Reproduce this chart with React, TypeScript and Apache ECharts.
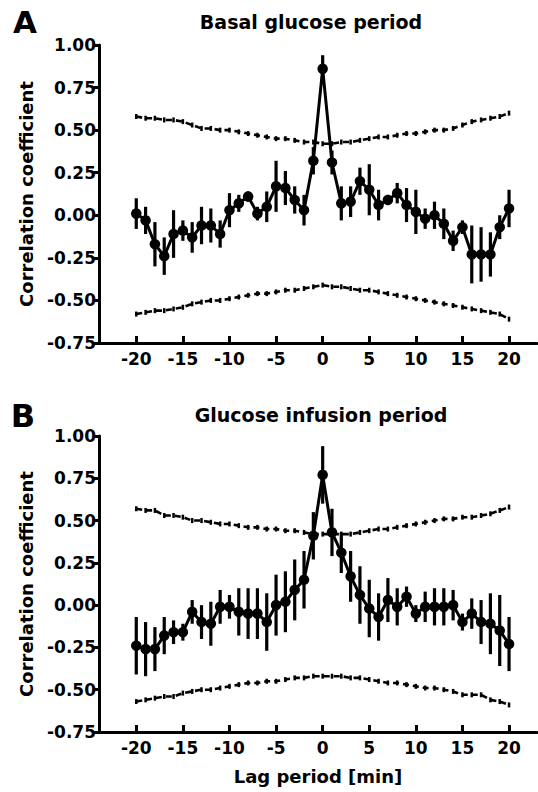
import React, { useEffect, useRef } from "react";
import * as echarts from "echarts";

const lags = [-20, -19, -18, -17, -16, -15, -14, -13, -12, -11, -10, -9, -8, -7, -6, -5, -4, -3, -2, -1, 0, 1, 2, 3, 4, 5, 6, 7, 8, 9, 10, 11, 12, 13, 14, 15, 16, 17, 18, 19, 20];
const xTicks = [-20, -15, -10, -5, 0, 5, 10, 15, 20];

const basalR = [0.01, -0.03, -0.17, -0.24, -0.11, -0.09, -0.13, -0.06, -0.06, -0.11, 0.03, 0.07, 0.11, 0.01, 0.05, 0.17, 0.16, 0.09, 0.03, 0.32, 0.86, 0.31, 0.07, 0.08, 0.2, 0.15, 0.06, 0.09, 0.13, 0.06, 0.02, -0.02, 0.0, -0.05, -0.15, -0.07, -0.23, -0.23, -0.23, -0.07, 0.04];
const basalErr = [0.09, 0.08, 0.13, 0.11, 0.14, 0.06, 0.09, 0.11, 0.1, 0.08, 0.1, 0.05, 0.03, 0.04, 0.09, 0.15, 0.1, 0.08, 0.09, 0.08, 0.08, 0.07, 0.1, 0.09, 0.08, 0.15, 0.09, 0.03, 0.06, 0.1, 0.13, 0.06, 0.08, 0.09, 0.06, 0.04, 0.17, 0.16, 0.13, 0.07, 0.11];
const basalUpper = [0.58, 0.57, 0.57, 0.56, 0.56, 0.55, 0.53, 0.51, 0.51, 0.5, 0.5, 0.49, 0.48, 0.47, 0.46, 0.45, 0.45, 0.44, 0.43, 0.43, 0.42, 0.42, 0.43, 0.43, 0.44, 0.45, 0.46, 0.46, 0.47, 0.48, 0.48, 0.49, 0.5, 0.5, 0.51, 0.53, 0.55, 0.56, 0.57, 0.58, 0.6];
const basalLower = [-0.58, -0.57, -0.56, -0.56, -0.55, -0.54, -0.52, -0.51, -0.5, -0.5, -0.49, -0.48, -0.47, -0.46, -0.46, -0.45, -0.44, -0.44, -0.43, -0.42, -0.41, -0.42, -0.42, -0.43, -0.44, -0.44, -0.45, -0.46, -0.47, -0.48, -0.49, -0.5, -0.51, -0.52, -0.53, -0.54, -0.55, -0.56, -0.57, -0.58, -0.61];

const infusionR = [-0.24, -0.26, -0.26, -0.18, -0.16, -0.16, -0.04, -0.1, -0.11, -0.01, -0.01, -0.04, -0.05, -0.05, -0.1, 0.0, 0.02, 0.09, 0.15, 0.41, 0.77, 0.43, 0.31, 0.17, 0.06, -0.02, -0.07, 0.03, -0.01, 0.05, -0.05, -0.01, -0.01, -0.01, 0.0, -0.1, -0.05, -0.1, -0.11, -0.15, -0.23];
const infusionErr = [0.17, 0.16, 0.13, 0.11, 0.07, 0.05, 0.07, 0.1, 0.13, 0.1, 0.07, 0.14, 0.15, 0.15, 0.17, 0.18, 0.18, 0.18, 0.17, 0.14, 0.17, 0.14, 0.12, 0.15, 0.17, 0.17, 0.14, 0.13, 0.11, 0.06, 0.05, 0.09, 0.11, 0.11, 0.09, 0.05, 0.09, 0.13, 0.18, 0.21, 0.16];
const infusionUpper = [0.57, 0.56, 0.56, 0.53, 0.53, 0.52, 0.5, 0.5, 0.49, 0.48, 0.48, 0.47, 0.46, 0.46, 0.45, 0.45, 0.44, 0.44, 0.43, 0.42, 0.42, 0.42, 0.42, 0.42, 0.43, 0.44, 0.45, 0.45, 0.46, 0.47, 0.48, 0.49, 0.5, 0.51, 0.51, 0.52, 0.52, 0.53, 0.54, 0.56, 0.58];
const infusionLower = [-0.57, -0.56, -0.55, -0.54, -0.54, -0.52, -0.51, -0.5, -0.5, -0.49, -0.48, -0.47, -0.46, -0.46, -0.45, -0.45, -0.44, -0.43, -0.43, -0.42, -0.42, -0.42, -0.42, -0.43, -0.43, -0.44, -0.45, -0.46, -0.46, -0.47, -0.48, -0.49, -0.49, -0.5, -0.51, -0.53, -0.53, -0.53, -0.56, -0.57, -0.59];

const titles = ["Basal glucose period", "Glucose infusion period"];
const panelLetters = ["A", "B"];
const yName = "Correlation coefficient";
const xName = "Lag period [min]";

const FONT = "'DejaVu Sans', 'Liberation Sans', sans-serif";
const INK = "#000";

function pairs(vals: number[]) {
  return lags.map((l, i) => [l, vals[i]]);
}
function bars(vals: number[], err: number[]) {
  return lags.map((l, i) => [l, vals[i] - err[i], vals[i] + err[i]]);
}

function panelSeries(idx: number, r: number[], err: number[], up: number[], lo: number[]) {
  const dashed = (data: number[][]) => ({
    type: "line",
    xAxisIndex: idx,
    yAxisIndex: idx,
    data,
    symbol: "rect",
    symbolSize: [2.5, 5],
    itemStyle: { color: INK },
    lineStyle: { color: INK, width: 2.6, type: [6, 4] },
    z: 2,
    silent: true,
  });
  return [
    dashed(pairs(up)),
    dashed(pairs(lo)),
    {
      type: "custom",
      xAxisIndex: idx,
      yAxisIndex: idx,
      data: bars(r, err),
      encode: { x: 0, y: [1, 2] },
      renderItem: (params: any, api: any) => {
        const x = api.value(0);
        const a = api.coord([x, api.value(1)]);
        const b = api.coord([x, api.value(2)]);
        return {
          type: "line",
          shape: { x1: a[0], y1: a[1], x2: b[0], y2: b[1] },
          style: { stroke: INK, lineWidth: 3.2 },
        };
      },
      z: 3,
      silent: true,
    },
    {
      type: "line",
      xAxisIndex: idx,
      yAxisIndex: idx,
      data: pairs(r),
      symbol: "circle",
      symbolSize: 10.5,
      showAllSymbol: true,
      itemStyle: { color: INK },
      lineStyle: { color: INK, width: 3 },
      z: 4,
      silent: true,
    },
  ];
}

function xAxisDef(idx: number, withName: boolean) {
  return {
    type: "value",
    gridIndex: idx,
    min: -24,
    max: 23,
    name: withName ? xName : "",
    nameLocation: "middle",
    nameGap: 35,
    nameTextStyle: { color: INK, fontFamily: FONT, fontWeight: "bold", fontSize: 18 },
    axisLine: { onZero: false, lineStyle: { color: INK, width: 3 } },
    axisTick: { show: true, inside: true, length: 7, lineStyle: { color: INK, width: 3 }, customValues: xTicks },
    axisLabel: { color: INK, fontFamily: FONT, fontWeight: "bold", fontSize: 17, margin: 7, customValues: xTicks },
    splitLine: { show: false },
  };
}

function yAxisDef(idx: number) {
  return {
    type: "value",
    gridIndex: idx,
    min: -0.75,
    max: 1,
    interval: 0.25,
    name: yName,
    nameLocation: "middle",
    nameGap: 64,
    nameTextStyle: { color: INK, fontFamily: FONT, fontWeight: "bold", fontSize: 18 },
    axisLine: { show: true, onZero: false, lineStyle: { color: INK, width: 3 } },
    axisTick: { show: true, inside: false, length: 6, lineStyle: { color: INK, width: 3 } },
    axisLabel: {
      color: INK,
      fontFamily: FONT,
      fontWeight: "bold",
      fontSize: 17,
      margin: 3,
      formatter: (v: number) => v.toFixed(2),
    },
    splitLine: { show: false },
  };
}

export default function App() {
  const ref = useRef<HTMLDivElement>(null);
  useEffect(() => {
    if (!ref.current) return;
    const chart = echarts.init(ref.current, undefined, { renderer: "svg" });
    chart.setOption({
      animation: false,
      backgroundColor: "#fff",
      grid: [
        { left: 99, right: 1, top: 45, height: 298 },
        { left: 99, right: 1, top: 436, height: 296 },
      ],
      xAxis: [xAxisDef(0, false), xAxisDef(1, true)],
      yAxis: [yAxisDef(0), yAxisDef(1)],
      graphic: [
        { type: "text", x: 311, y: 22, style: { text: titles[0], fill: INK, font: `bold 19px ${FONT}`, align: "center", verticalAlign: "middle" } },
        { type: "text", x: 321, y: 415, style: { text: titles[1], fill: INK, font: `bold 19px ${FONT}`, align: "center", verticalAlign: "middle" } },
        { type: "text", x: 25, y: 22, style: { text: panelLetters[0], fill: INK, font: `bold 31px ${FONT}`, align: "center", verticalAlign: "middle" } },
        { type: "text", x: 23, y: 416, style: { text: panelLetters[1], fill: INK, font: `bold 32px ${FONT}`, align: "center", verticalAlign: "middle" } },
      ],
      series: [
        ...panelSeries(0, basalR, basalErr, basalUpper, basalLower),
        ...panelSeries(1, infusionR, infusionErr, infusionUpper, infusionLower),
      ],
    });
    return () => chart.dispose();
  }, []);
  return (
    <div
      ref={ref}
      style={{ position: "fixed", left: 0, top: 0, width: 538, height: 792, background: "#fff" }}
    />
  );
}
